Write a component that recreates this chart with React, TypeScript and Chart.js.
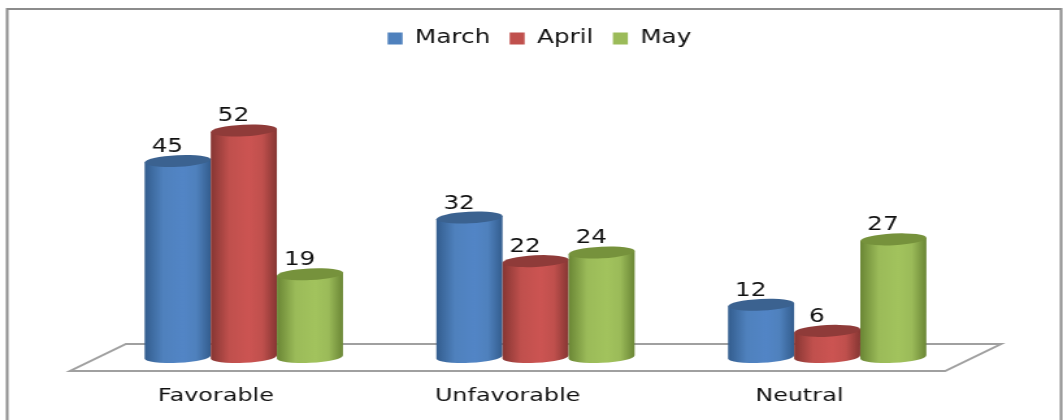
import React, { useEffect, useRef } from "react";
import { Chart, registerables } from "chart.js";

Chart.register(...registerables);

const categories = ["Favorable", "Unfavorable", "Neutral"];
const seriesNames = ["March", "April", "May"];
const march = [45, 32, 12];
const april = [52, 22, 6];
const may = [19, 24, 27];

const mainColors = ["#4f81bd", "#c0504d", "#9bbb59"];
const brightColors = ["#5285c6", "#cc5452", "#a2c35d"];
const darkColors = ["#335d8e", "#863633", "#6a8635"];
const capColors = ["#3b6290", "#8f3b39", "#76923c"];

const WIDTH = 1063;
const HEIGHT = 420;
const STRETCH = 1.3;
const CANVAS_W = Math.round(WIDTH / STRETCH);

const cylinders = {
  id: "cylinders",
  afterLayout(chart: any) {
    chart.legend.left += 3;
    chart.legend.right += 3;
    chart.legend.top += 6;
    chart.legend.bottom += 6;
  },
  beforeDatasetDraw() {
    return false;
  },
  beforeDatasetsDraw(chart: any) {
    const { ctx, chartArea, scales } = chart;
    const base = scales.y.getPixelForValue(0);
    const skew = 21.5;
    ctx.save();
    ctx.strokeStyle = "#a0a0a0";
    ctx.lineWidth = 2;
    ctx.beginPath();
    ctx.moveTo(chartArea.left - skew, base + 14);
    ctx.lineTo(chartArea.right - skew, base + 14);
    ctx.lineTo(chartArea.right + skew, base - 13);
    ctx.lineTo(chartArea.left + skew, base - 13);
    ctx.closePath();
    ctx.stroke();
    ctx.restore();
  },
  afterDatasetsDraw(chart: any) {
    const { ctx } = chart;
    const ry = 5.8;
    const tilt = -0.065;
    chart.data.datasets.forEach((ds: any, di: number) => {
      const meta = chart.getDatasetMeta(di);
      meta.data.forEach((bar: any, i: number) => {
        const { x, y, base, width } = bar.getProps(["x", "y", "base", "width"], true);
        const rx = width / 2;
        const l = x - rx;
        const r = x + rx;
        const dy = rx * Math.sin(-tilt);
        const g = ctx.createLinearGradient(l, 0, r, 0);
        g.addColorStop(0, darkColors[di]);
        g.addColorStop(0.28, mainColors[di]);
        g.addColorStop(0.58, brightColors[di]);
        g.addColorStop(0.78, mainColors[di]);
        g.addColorStop(1, darkColors[di]);
        ctx.save();
        ctx.fillStyle = g;
        ctx.beginPath();
        ctx.moveTo(l, y + dy);
        ctx.lineTo(l, base + dy);
        ctx.ellipse(x, base, rx, ry, tilt, Math.PI, 0, true);
        ctx.lineTo(r, y - dy);
        ctx.closePath();
        ctx.fill();
        ctx.fillStyle = capColors[di];
        ctx.beginPath();
        ctx.ellipse(x, y, rx, ry, tilt, 0, Math.PI * 2);
        ctx.fill();
        ctx.fillStyle = "#111111";
        ctx.font = "19px 'DejaVu Sans'";
        ctx.textAlign = "center";
        ctx.textBaseline = "middle";
        ctx.fillText(String(ds.data[i]), x - 8, y - 14);
        ctx.restore();
      });
    });
  },
  afterDraw(chart: any) {
    const { ctx } = chart;
    ctx.save();
    ctx.strokeStyle = "#8c8c8c";
    ctx.lineWidth = 2;
    ctx.beginPath();
    ctx.moveTo(5.5, chart.height + 5);
    ctx.lineTo(5.5, 9);
    ctx.lineTo(chart.width - 1.5, 9);
    ctx.lineTo(chart.width - 1.5, chart.height + 5);
    ctx.stroke();
    ctx.restore();
  },
};

export default function App() {
  const ref = useRef<HTMLCanvasElement>(null);
  useEffect(() => {
    const chart = new Chart(ref.current as HTMLCanvasElement, {
      type: "bar",
      data: {
        labels: categories,
        datasets: [march, april, may].map((data, i) => ({
          label: seriesNames[i],
          data,
          backgroundColor: mainColors[i],
          borderWidth: 0,
          barPercentage: 1,
          categoryPercentage: 0.68,
        })),
      },
      options: {
        responsive: false,
        animation: false,
        layout: { padding: { top: 8, left: 75.4, right: 69.2, bottom: 0 } },
        font: { family: "'DejaVu Sans'" },
        plugins: {
          title: { display: false },
          tooltip: { enabled: false },
          legend: {
            position: "top",
            align: "center",
            labels: {
              boxWidth: 11.5,
              boxHeight: 12,
              padding: 15,
              color: "#111111",
              font: { size: 19, family: "'DejaVu Sans'" },
            },
          },
        },
        scales: {
          x: {
            afterFit: (s: any) => {
              s.height = 63;
            },
            grid: { display: false },
            border: { display: false },
            ticks: {
              color: "#111111",
              padding: 20,
              labelOffset: -21.5,
              maxRotation: 0,
              font: { size: 18.4, family: "'DejaVu Sans'" },
            },
          },
          y: { display: false, min: 0, max: 70 },
        },
      },
      plugins: [cylinders],
    } as any);
    return () => chart.destroy();
  }, []);
  return (
    <canvas
      ref={ref}
      width={CANVAS_W}
      height={HEIGHT}
      style={{
        position: "absolute",
        left: 0,
        top: 0,
        width: WIDTH,
        height: HEIGHT,
        background: "#ffffff",
        filter: "blur(0.5px)",
      }}
    />
  );
}
